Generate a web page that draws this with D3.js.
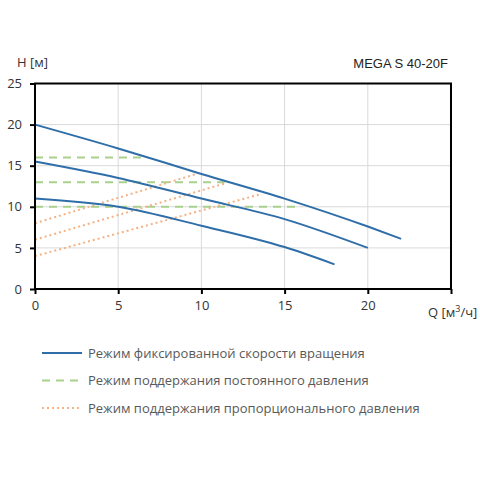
<!DOCTYPE html>
<html><head><meta charset="utf-8">
<script src="https://cdn.jsdelivr.net/npm/d3@7"></script>
<style>body{margin:0;background:#fff}svg{display:block}</style>
</head><body>
<svg id="c" width="480" height="480"></svg>
<script>
const title = "MEGA S 40-20F";
const yLabel = "H [м]";
const xTicks = [0, 5, 10, 15, 20];
const yTicks = [0, 5, 10, 15, 20, 25];
// Fixed speed curves: [Q, H]
const fixedHigh = [[0,20],[5,17.1],[10,14],[15,11],[20,7.6],[22,6.1]];
const fixedMid  = [[0,15.5],[5,13.5],[10,11],[15,8.5],[20,5]];
const fixedLow  = [[0,11],[5,10],[10,7.7],[15,5.1],[18,3]];
// Constant pressure
const constHigh = [[0,16],[6.6,16]];
const constMid  = [[0,13],[11.4,13]];
const constLow  = [[0,10],[16,10]];
// Proportional pressure
const propHigh = [[0,8],[9.7,14]];
const propMid  = [[0,6],[11.5,12.9]];
const propLow  = [[0,4],[13.5,11.5]];
const legendLabels = [
  "Режим фиксированной скорости вращения",
  "Режим поддержания постоянного давления",
  "Режим поддержания пропорционального давления"
];

const svg = d3.select("#c");
const font = "'Open Sans', sans-serif";
const x = d3.scaleLinear().domain([0,25]).range([35,451]);
const y = d3.scaleLinear().domain([0,25]).range([289,83.5]);

// grid
const g = svg.append("g");
g.selectAll(".vg").data(xTicks.slice(1)).join("line")
  .attr("x1",d=>x(d)).attr("x2",d=>x(d)).attr("y1",y(0)).attr("y2",y(25))
  .attr("stroke","#d9d9d9").attr("stroke-width",1);
g.selectAll(".hg").data(yTicks.slice(1)).join("line")
  .attr("x1",x(0)).attr("x2",x(25)).attr("y1",d=>y(d)).attr("y2",d=>y(d))
  .attr("stroke","#d9d9d9").attr("stroke-width",1);

const line = d3.line().x(d=>x(d[0])).y(d=>y(d[1]));
const blue = "#2f6ea8", green = "#a9d18e", orange = "#f4b183";

[constHigh,constMid,constLow].forEach(d=>{
  svg.append("path").datum(d).attr("d",line).attr("fill","none")
    .attr("stroke",green).attr("stroke-width",2).attr("stroke-dasharray","8,6");
});
[propHigh,propMid,propLow].forEach(d=>{
  svg.append("path").datum(d).attr("d",line).attr("fill","none")
    .attr("stroke",orange).attr("stroke-width",2).attr("stroke-dasharray","2,3");
});
[fixedHigh,fixedMid,fixedLow].forEach(d=>{
  svg.append("path").datum(d).attr("d",d3.line().x(p=>x(p[0])).y(p=>y(p[1])).curve(d3.curveMonotoneX))
    .attr("fill","none").attr("stroke",blue).attr("stroke-width",2);
});

// frame
svg.append("rect").attr("x",x(0)).attr("y",y(25)).attr("width",x(25)-x(0)).attr("height",y(0)-y(25))
  .attr("fill","none").attr("stroke","#000").attr("stroke-width",2);

// axes
const xAxis = svg.append("g").attr("transform",`translate(0,${y(0)})`)
  .call(d3.axisBottom(x).tickValues([0,5,10,15,20,25]).tickFormat(d=>d===25?"":d).tickSize(5).tickPadding(7));
const yAxis = svg.append("g").attr("transform",`translate(${x(0)},0)`)
  .call(d3.axisLeft(y).tickValues(yTicks).tickSize(5).tickPadding(8));
[xAxis,yAxis].forEach(a=>{
  a.select(".domain").remove();
  a.selectAll(".tick line").attr("stroke","#000").attr("stroke-width",2);
  a.selectAll("text").attr("font-family",font).attr("font-size",13).attr("fill","#333");
});

svg.append("text").attr("x",17).attr("y",67).text(yLabel)
  .attr("font-family",font).attr("font-size",13).attr("fill","#333");
svg.append("text").attr("x",448).attr("y",68).attr("text-anchor","end").text(title)
  .attr("font-family","'Liberation Sans', Arial, sans-serif").attr("font-size",13).attr("fill","#222");
const ql = svg.append("text").attr("x",428).attr("y",317)
  .attr("font-family",font).attr("font-size",13).attr("fill","#333");
ql.append("tspan").text("Q [м");
ql.append("tspan").text("3").attr("font-size",9).attr("dy",-5);
ql.append("tspan").text("/ч]").attr("dy",5);

// legend
const styles = [
  {c:blue,dash:null},
  {c:green,dash:"8,6"},
  {c:orange,dash:"2,3"}
];
legendLabels.forEach((t,i)=>{
  const yy = 353 + i*27.5;
  svg.append("line").attr("x1",42).attr("x2",82).attr("y1",yy).attr("y2",yy)
    .attr("stroke",styles[i].c).attr("stroke-width",2)
    .attr("stroke-dasharray",styles[i].dash);
  svg.append("text").attr("x",88).attr("y",yy+4.5).text(t)
    .attr("font-family",font).attr("font-size",13).attr("fill","#595959");
});
</script>
</body></html>
